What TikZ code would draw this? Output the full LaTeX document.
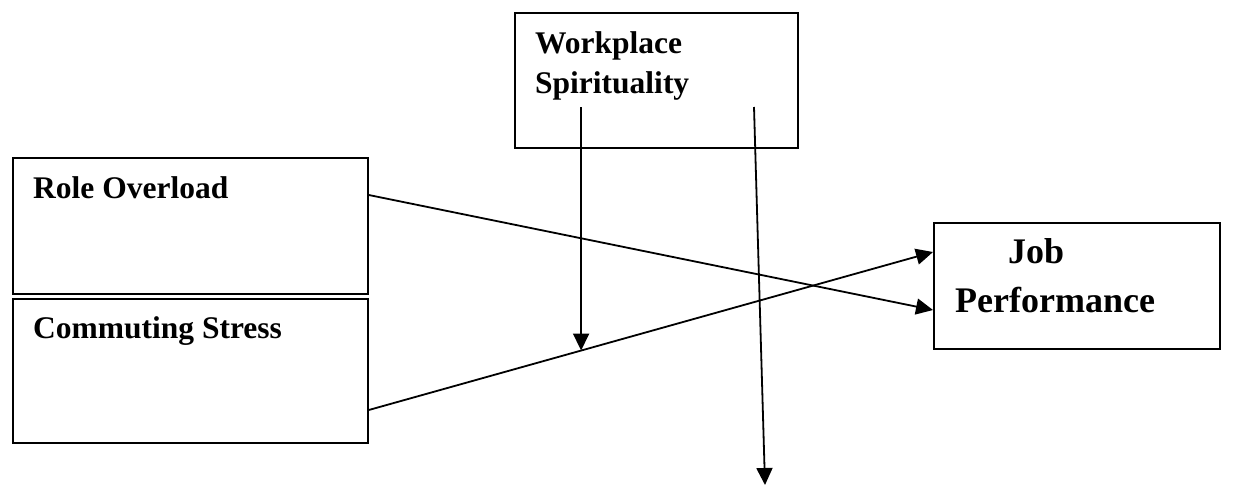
\documentclass[tikz,border=0pt]{standalone}
\usepackage{fontspec}
\setmainfont{Liberation Serif}
\usetikzlibrary{arrows.meta,calc}
\begin{document}
\begin{tikzpicture}[x=1pt,y=-1pt,
  box/.style={draw,line width=1.8pt,inner sep=0pt,anchor=north west},
  lbl/.style={inner sep=0pt,font=\bfseries\fontsize{31.5}{40}\selectfont,align=left},
  conn/.style={line width=1.8pt,-{Triangle[length=17pt,width=16pt]}}]
\useasboundingbox (0,0) rectangle (1238,485);
% boxes
\node[box,minimum width=283pt,minimum height=135pt] (ws) at (514,12) {};
\node[box,minimum width=355pt,minimum height=136pt] (ro) at (12,157) {};
\node[box,minimum width=355pt,minimum height=144pt] (cs) at (12,298) {};
\node[box,minimum width=286pt,minimum height=126pt] (jp) at (933,222) {};
% labels
\node[lbl,anchor=north west] (wst) at (535,31.7) {Workplace\\Spirituality};
\node[lbl,anchor=base west] (rot) at (33,198) {Role Overload};
\node[lbl,anchor=base west] (cst) at (33,338) {Commuting Stress};
\node[lbl,anchor=north west,font=\bfseries\fontsize{36}{49}\selectfont] (jpt) at (955,238.7) {\hspace{53pt}Job\\Performance};
% connector end points
\coordinate (roS) at ($(ro.north east)+(0,38)$);
\coordinate (csS) at ($(cs.north east)+(0,112)$);
\coordinate (jpA) at ($(jp.north west)+(0,30)$);
\coordinate (jpB) at ($(jp.north west)+(0,88)$);
\coordinate (mid) at ($(csS)!0.3763!(jpA)$);
\coordinate (wsA) at (mid |- 0,107);
\coordinate (wsB) at (754,107);
\coordinate (down) at (765,485);
% connectors
\draw[conn] (roS) -- (jpB);
\draw[conn] (csS) -- (jpA);
\draw[conn] (wsA) -- (mid);
\draw[conn] (wsB) -- (down);
\end{tikzpicture}
\end{document}
